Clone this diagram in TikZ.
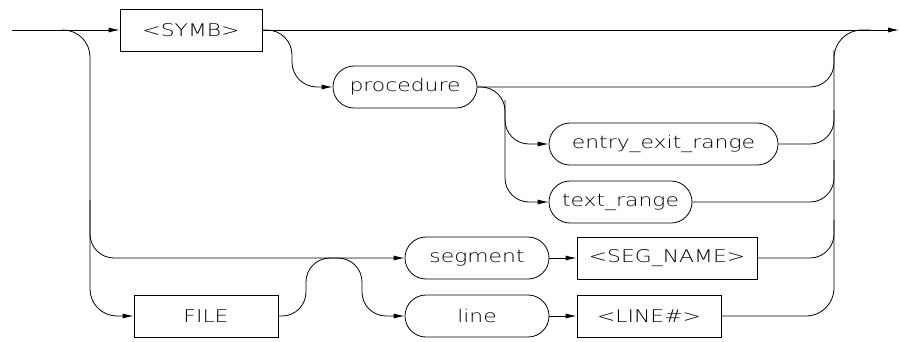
\documentclass[tikz,border=0pt]{standalone}
\usepackage{fontspec}
\newfontfamily\hp[FakeStretch=1.25]{DejaVu Sans ExtraLight}
\usetikzlibrary{arrows.meta}
\begin{document}
\begin{tikzpicture}[x=1pt,y=-1pt, line width=0.8pt,
  box/.style={draw, rectangle, minimum height=42pt, inner sep=0pt, font=\hp\fontsize{17.5}{17.5}\selectfont},
  pill/.style={box, rounded corners=21pt},
  arr/.style={-{Latex[length=11pt,width=5pt]}},
  rc/.style={rounded corners=24pt}]
\useasboundingbox (0,0) rectangle (900,341);
\node[box, minimum width=142pt] (symb) at (191,30) {<SYMB>};
\node[pill, minimum width=144pt] (proc) at (405,87) {procedure};
\node[pill, minimum width=229pt] (eer) at (663.5,144) {entry\_exit\_range};
\node[pill, minimum width=143pt] (txt) at (620.5,202) {text\_range};
\node[pill, minimum width=144pt] (seg) at (477,258) {segment};
\node[box, minimum width=180pt] (segn) at (667,258) {<SEG\_NAME>};
\node[box, minimum width=144pt] (file) at (206,316) {FILE};
\node[pill, minimum width=144pt] (line) at (477,316) {line};
\node[box, minimum width=144pt] (linen) at (649,316) {<LINE\#>};
\coordinate (start) at (12,30);
\coordinate (fin) at (899,30);
\coordinate (lsplit) at (62,30);
\coordinate (lbar) at (90,200);
\coordinate (pbar) at (505,100);
\draw[arr] (start) -- (symb.west);
\draw[arr] (symb.east) -- (fin);
\draw[arr, rounded corners=27pt] (lsplit) -- (90,30) -- (90,316) -- (file.west);
\draw[arr, rc] (lbar) -- (90,258) -- (seg.west);
\draw[arr, rounded corners=25pt] (symb.east) -- (292,30) -- (292,87) -- (proc.west);
\draw[arr, rc] (proc.east) -- (505,87) -- (505,202) -- (txt.west);
\draw[arr, rc] (pbar) -- (505,144) -- (eer.west);
\draw[arr] (seg.east) -- (segn.west);
\draw[arr] (line.east) -- (linen.west);
\draw[arr, rc] (file.east) -- (306,316) -- (306,258) -- (362,258) -- (362,316) -- (line.west);
\draw[rounded corners=28pt] (linen.east) -- (834,316) -- (834,30) -- (870,30);
\draw[rc] (segn.east) -- (834,258) -- (834,220);
\draw[rc] (txt.east) -- (834,202) -- (834,160);
\draw[rc] (eer.east) -- (834,144) -- (834,110);
\draw[rc] (proc.east) -- (834,87) -- (834,50);
\end{tikzpicture}
\end{document}
